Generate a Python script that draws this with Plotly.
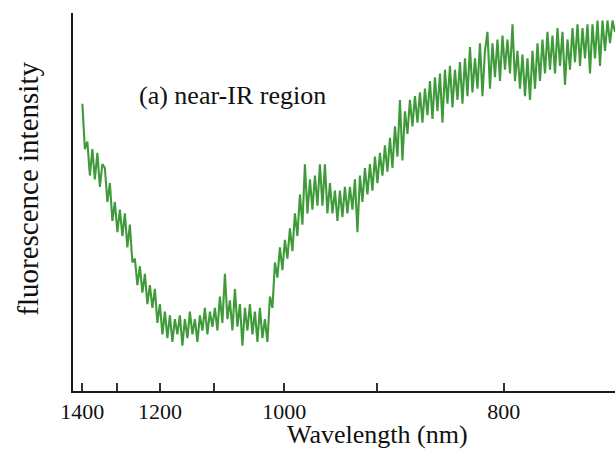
import numpy as np
import plotly.graph_objects as go

# Fluorescence intensity (arbitrary units, 0-100), sampled evenly along the displayed axis
intensity = [
    76, 64, 66, 57, 64, 56, 63, 54, 60, 59,
    50, 55, 45, 50, 42, 48, 41, 47, 38, 44,
    34, 35, 28, 33, 26, 31, 23, 28, 22, 27,
    18, 23, 15, 21, 14, 20, 13, 19, 15, 20,
    12, 19, 14, 21, 15, 19, 13, 20, 16, 22,
    15, 21, 17, 22, 16, 25, 18, 31, 19, 24,
    16, 27, 17, 23, 12, 22, 16, 23, 15, 21,
    13, 22, 14, 19, 13, 25, 22, 34, 30, 38,
    32, 40, 35, 43, 37, 47, 41, 52, 44, 60,
    47, 56, 48, 57, 49, 60, 49, 60, 47, 55,
    47, 53, 45, 53, 46, 54, 47, 54, 48, 56,
    42, 57, 50, 59, 52, 60, 53, 62, 55, 63,
    57, 65, 58, 67, 59, 70, 62, 77, 61, 74,
    68, 77, 70, 78, 71, 79, 71, 80, 73, 82,
    72, 83, 74, 84, 71, 85, 76, 86, 75, 85,
    77, 87, 76, 88, 78, 91, 79, 88, 80, 92,
    78, 90, 95, 80, 92, 83, 93, 82, 94, 85,
    93, 84, 97, 82, 90, 80, 89, 78, 88, 77,
    90, 80, 92, 82, 93, 84, 95, 85, 94, 84,
    96, 86, 95, 81, 93, 85, 96, 87, 97, 86,
    96, 88, 97, 84, 97, 88, 98, 86, 98, 90,
    98, 92, 98, 95,
]

tick_wavelengths = [1400, 1300, 1200, 1100, 1000, 900, 800]
tick_labels = ["1400", "", "1200", "", "1000", "", "800"]
wl_start, wl_end = 1400, 734      # data span (nm)
axis_left_wl = 1431               # left end of the axis (nm)

P = 1.8  # the original figure's wavelength axis is non-linear


def disp(wl):
    return (1000.0 / np.asarray(wl, dtype=float)) ** P


u_grid = np.linspace(disp(wl_start), disp(wl_end), len(intensity))
wavelength_nm = 1000.0 / u_grid ** (1.0 / P)

serif = "Liberation Serif"

fig = go.Figure(
    go.Scatter(
        x=disp(wavelength_nm),
        y=intensity,
        mode="lines",
        line=dict(color="#3f9b3a", width=2.1),
        hoverinfo="skip",
        showlegend=False,
    )
)

fig.update_layout(
    width=616,
    height=451,
    margin=dict(l=73, r=1, t=13, b=60),
    paper_bgcolor="white",
    plot_bgcolor="white",
    xaxis=dict(
        range=[float(disp(axis_left_wl)), float(disp(wl_end))],
        showline=True,
        linecolor="#1a1a1a",
        linewidth=2,
        ticks="inside",
        ticklen=8,
        tickwidth=1.5,
        tickcolor="#333333",
        tickvals=[float(v) for v in disp(tick_wavelengths)] + [float(disp(wl_end))],
        ticktext=tick_labels + [""],
        tickfont=dict(family=serif, size=22, color="#111111"),
        showgrid=False,
        zeroline=False,
    ),
    yaxis=dict(
        range=[0, 100],
        showline=True,
        linecolor="#1a1a1a",
        linewidth=2,
        ticks="",
        showticklabels=False,
        showgrid=False,
        zeroline=False,
    ),
    annotations=[
        dict(text="(a) near-IR region", x=0.1175, y=0.782, xref="paper", yref="paper",
             xanchor="left", yanchor="middle", showarrow=False,
             font=dict(family=serif, size=26, color="#111111")),
        dict(text="fluorescence intensity", x=-0.082, y=0.534, xref="paper", yref="paper",
             xanchor="center", yanchor="middle", textangle=-90, showarrow=False,
             font=dict(family=serif, size=29, color="#111111")),
        dict(text="Wavelength (nm)", x=0.561, y=-0.159, xref="paper", yref="paper",
             xanchor="center", yanchor="bottom", showarrow=False,
             font=dict(family=serif, size=26, color="#111111")),
    ],
)

fig.write_html("out.html")
